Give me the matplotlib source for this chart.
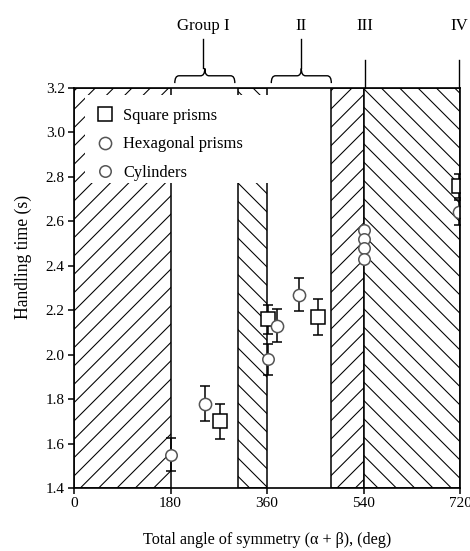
import numpy as np
import matplotlib.pyplot as plt
from matplotlib.path import Path
from matplotlib.patches import PathPatch, Rectangle

plt.rcParams["font.family"] = ["Liberation Serif", "DejaVu Serif"]
plt.rcParams["hatch.linewidth"] = 0.7

# square prisms: angle (deg), handling time (s), error
sq_x = [272, 362, 455, 718]
sq_y = [1.70, 2.16, 2.17, 2.76]
sq_e = [0.08, 0.065, 0.08, 0.055]
# hexagonal prisms
hx_x = [244, 378, 420, 718]
hx_y = [1.78, 2.13, 2.27, 2.64]
hx_e = [0.077, 0.075, 0.075, 0.055]
# cylinders (no bars on the 540 stack)
cy_x = [180, 362, 540, 540, 540, 540]
cy_y = [1.55, 1.98, 2.56, 2.52, 2.48, 2.43]
cy_e = [0.075, 0.07, np.nan, np.nan, np.nan, np.nan]

# shaded (hatched) zones
zone_lo = [0, 305, 480, 540]
zone_hi = [180, 360, 540, 720]
zone_hatch = ["//", "\\\\", "//", "\\\\"]

# group labels above the plot
grp_names = ["Group I", "II", "III", "IV"]
grp_x = [241, 424, 542, 718]
brace_lo = [188, 368]
brace_hi = [300, 480]

DPI = 110
fig = plt.figure(figsize=(470 / DPI, 551 / DPI), dpi=DPI)
ax = fig.add_axes([74 / 470, 63 / 551, 386 / 470, 400 / 551])

for a, b, h in zip(zone_lo, zone_hi, zone_hatch):
    ax.add_patch(Rectangle((a, 1.4), b - a, 1.8, facecolor="white",
                           edgecolor="black", hatch=h, lw=1.0, zorder=1))

# white box behind the legend
ax.add_patch(Rectangle((0.028, 0.763), 0.487, 0.22, transform=ax.transAxes,
                       facecolor="white", edgecolor="none", zorder=2))

ebkw = dict(fmt="none", ecolor="black", elinewidth=1.0, capsize=3.5,
            capthick=1.0, zorder=3)
ax.errorbar(sq_x, sq_y, yerr=sq_e, **ebkw)
ax.errorbar(hx_x, hx_y, yerr=hx_e, **ebkw)
cy_e = np.array(cy_e)
ok = np.isfinite(cy_e)
ax.errorbar(np.array(cy_x)[ok], np.array(cy_y)[ok], yerr=cy_e[ok], **ebkw)

ax.plot(sq_x, sq_y, "s", ms=9, mfc="white", mec="black", mew=1.0,
        ls="none", zorder=4, label="Square prisms")
ax.plot(hx_x, hx_y, "o", ms=8, mfc="white", mec="#555555", mew=1.0,
        ls="none", zorder=4, label="Hexagonal prisms")
ax.plot(cy_x, cy_y, "o", ms=7.5, mfc="white", mec="#555555", mew=1.0,
        ls="none", zorder=4, label="Cylinders")

leg = ax.legend(loc="upper left", bbox_to_anchor=(0.054, 0.95), frameon=False,
                fontsize=10.8, handletextpad=0.5, labelspacing=0.75,
                handlelength=1.2, borderaxespad=0, borderpad=0)
leg.set_zorder(5)

ax.set_xlim(0, 720)
ax.set_ylim(1.4, 3.2)
ax.set_xticks([0, 180, 360, 540, 720])
ax.set_yticks(np.arange(1.4, 3.21, 0.2))
ax.yaxis.set_major_formatter(plt.FormatStrFormatter("%.1f"))
ax.tick_params(direction="out", length=4, width=1.0, labelsize=10, pad=2)
for s in ax.spines.values():
    s.set_linewidth(1.1)
    s.set_zorder(6)
ax.set_xlabel("Total angle of symmetry (α + β), (deg)", fontsize=10.6,
              labelpad=14)
ax.set_ylabel("Handling time (s)", fontsize=11.5)
ax.yaxis.set_label_coords(-0.11, 0.578)

# group annotations above the axes
for name, gx in zip(grp_names, grp_x):
    ax.text(gx, 3.48, name, ha="center", va="center", fontsize=11,
            clip_on=False)
for gx in grp_x[:2]:
    ax.plot([gx, gx], [3.42, 3.29], color="black", lw=0.9, clip_on=False)
for gx in grp_x[2:]:
    ax.plot([gx, gx], [3.326, 3.2], color="black", lw=0.9, clip_on=False)


def brace(x0, x1, ylow=3.222, ymid=3.255, ytop=3.288):
    xm = (x0 + x1) / 2
    d = (x1 - x0) * 0.07
    verts = [(x0, ylow), (x0, ymid), (x0 + d, ymid),
             (xm - d, ymid), (xm, ymid), (xm, ytop),
             (xm, ymid), (xm + d, ymid),
             (x1 - d, ymid), (x1, ymid), (x1, ylow)]
    codes = [Path.MOVETO, Path.CURVE3, Path.CURVE3,
             Path.LINETO, Path.CURVE3, Path.CURVE3,
             Path.CURVE3, Path.CURVE3,
             Path.LINETO, Path.CURVE3, Path.CURVE3]
    ax.add_patch(PathPatch(Path(verts, codes), facecolor="none",
                           edgecolor="black", lw=0.9, clip_on=False))


for a, b in zip(brace_lo, brace_hi):
    brace(a, b)

fig.savefig("out.png", dpi=DPI)
